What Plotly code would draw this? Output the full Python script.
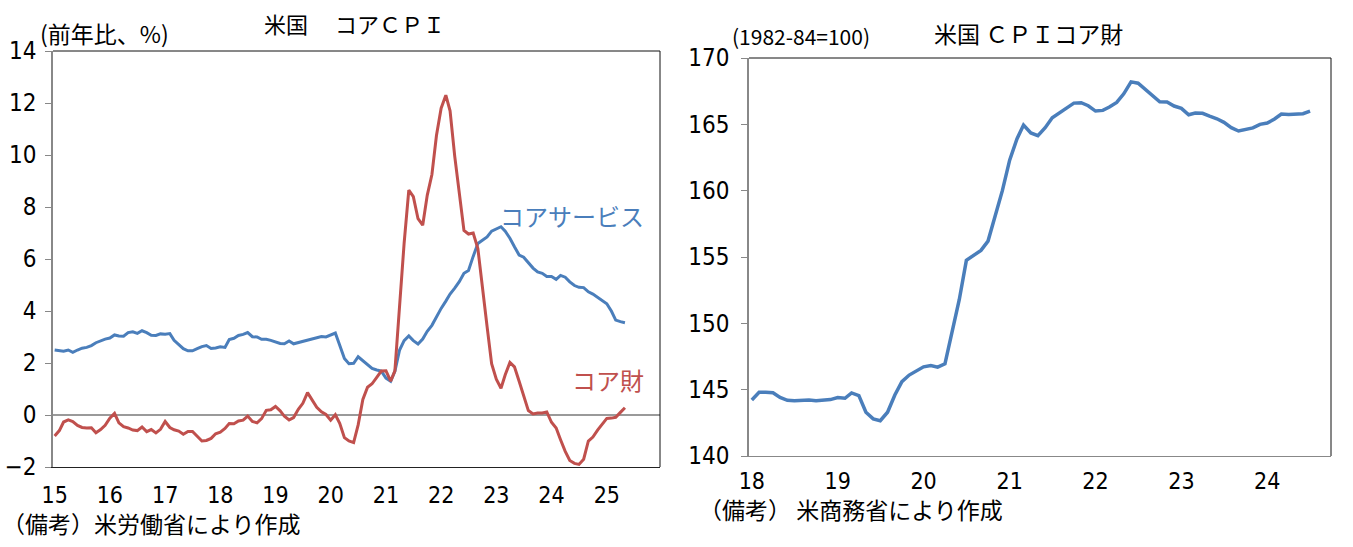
import pandas as pd
import plotly.graph_objects as go

# ---------------- data ----------------
core_dates = pd.date_range("2015-01-01", "2025-05-01", freq="MS")

core_services = [
    2.50, 2.47, 2.45, 2.50, 2.41, 2.50, 2.57, 2.60, 2.67, 2.78, 2.86, 2.92,   # 2015
    2.96, 3.08, 3.04, 3.03, 3.17, 3.20, 3.14, 3.24, 3.17, 3.07, 3.06, 3.12,   # 2016
    3.11, 3.13, 2.87, 2.70, 2.55, 2.47, 2.47, 2.55, 2.63, 2.67, 2.56, 2.58,   # 2017
    2.62, 2.60, 2.90, 2.95, 3.06, 3.10, 3.17, 3.01, 3.00, 2.91, 2.91, 2.87,   # 2018
    2.80, 2.75, 2.74, 2.85, 2.74, 2.79, 2.85, 2.90, 2.93, 2.97, 3.02, 3.00,   # 2019
    3.08, 3.15, 2.68, 2.17, 1.97, 1.99, 2.24, 2.10, 1.94, 1.79, 1.73, 1.69,   # 2020
    1.42, 1.30, 1.68, 2.50, 2.86, 3.04, 2.86, 2.73, 2.92, 3.22, 3.45, 3.80,   # 2021
    4.10, 4.38, 4.65, 4.88, 5.13, 5.45, 5.56, 6.10, 6.60, 6.72, 6.85, 7.07,   # 2022
    7.17, 7.24, 7.07, 6.80, 6.47, 6.15, 6.07, 5.84, 5.65, 5.50, 5.45, 5.33,   # 2023
    5.33, 5.22, 5.37, 5.30, 5.12, 4.98, 4.91, 4.90, 4.74, 4.65, 4.52, 4.40,   # 2024
    4.28, 3.99, 3.65, 3.59, 3.55,                                             # 2025
]

core_goods = [
    -0.81, -0.60, -0.27, -0.19, -0.25, -0.40, -0.48, -0.50, -0.49, -0.68, -0.56, -0.40,  # 2015
    -0.12, 0.06, -0.30, -0.45, -0.50, -0.58, -0.60, -0.46, -0.64, -0.56, -0.69, -0.55,   # 2016
    -0.25, -0.48, -0.57, -0.62, -0.74, -0.63, -0.63, -0.82, -1.00, -0.98, -0.90, -0.72,  # 2017
    -0.66, -0.52, -0.33, -0.34, -0.23, -0.20, -0.04, -0.25, -0.30, -0.14, 0.18, 0.20,    # 2018
    0.33, 0.16, -0.05, -0.19, -0.10, 0.22, 0.45, 0.86, 0.60, 0.30, 0.12, 0.02,           # 2019
    -0.20, 0.01, -0.32, -0.87, -1.00, -1.06, -0.38, 0.60, 1.07, 1.20, 1.45, 1.69,        # 2020
    1.70, 1.30, 1.70, 4.40, 6.60, 8.65, 8.40, 7.55, 7.30, 8.45, 9.25, 10.75,             # 2021
    11.80, 12.30, 11.70, 9.95, 8.65, 7.10, 6.96, 7.00, 6.40, 4.80, 3.40, 1.97,           # 2022
    1.38, 1.03, 1.55, 2.02, 1.85, 1.30, 0.75, 0.17, 0.04, 0.08, 0.08, 0.12,              # 2023
    -0.28, -0.50, -0.95, -1.40, -1.75, -1.86, -1.90, -1.70, -1.00, -0.85, -0.58, -0.36,  # 2024
    -0.13, -0.12, -0.09, 0.10, 0.28,                                                     # 2025
]

index_dates = pd.date_range("2018-01-01", "2024-07-01", freq="MS")

core_goods_index = [
    144.22, 144.80, 144.80, 144.77, 144.42, 144.20, 144.17, 144.20, 144.22, 144.17, 144.22, 144.25,  # 2018
    144.40, 144.35, 144.75, 144.55, 143.30, 142.80, 142.66, 143.30, 144.60, 145.60, 146.10, 146.40,  # 2019
    146.72, 146.82, 146.70, 146.95, 149.20, 151.80, 154.75, 155.15, 155.50, 156.20, 158.10, 160.00,  # 2020
    162.30, 163.90, 164.95, 164.35, 164.15, 164.75, 165.50, 165.85, 166.20, 166.60, 166.63, 166.40,  # 2021
    166.00, 166.05, 166.30, 166.65, 167.30, 168.20, 168.10, 167.60, 167.15, 166.70, 166.68, 166.38,  # 2022
    166.20, 165.72, 165.85, 165.83, 165.62, 165.42, 165.15, 164.75, 164.50, 164.60, 164.73, 165.00,  # 2023
    165.10, 165.40, 165.78, 165.75, 165.80, 165.80, 166.00,                                          # 2024
]

# ---------------- style ----------------
W, H = 1353, 547
BLUE = "#4A7EBB"
RED = "#C0504D"
JP = "Noto Sans CJK JP"
NUM = "Liberation Sans Narrow, DejaVu Sans Condensed, Noto Sans CJK JP, sans-serif"


def px_x(v):
    return v / W


def px_y(v):
    return (H - v) / H


fig = go.Figure()

fig.add_trace(go.Scatter(x=core_dates, y=core_services, mode="lines",
                         line=dict(color=BLUE, width=3), xaxis="x", yaxis="y",
                         showlegend=False))
fig.add_trace(go.Scatter(x=core_dates, y=core_goods, mode="lines",
                         line=dict(color=RED, width=3), xaxis="x", yaxis="y",
                         showlegend=False))
fig.add_trace(go.Scatter(x=index_dates, y=core_goods_index, mode="lines",
                         line=dict(color=BLUE, width=3.5), xaxis="x2", yaxis="y2",
                         showlegend=False))

common_x = dict(type="date", tickformat="%y", dtick="M12", showgrid=False,
                zeroline=False, ticks="", showline=True, linewidth=1,
                automargin=False,
                tickfont=dict(family=NUM, size=23, color="#000"))
common_y = dict(showgrid=False, ticks="outside", ticklen=6, tickcolor="#888",
                tickwidth=1, showline=True, linecolor="#888", linewidth=1.5,
                automargin=False,
                tickfont=dict(family=NUM, size=24, color="#000"))

fig.update_layout(
    width=W, height=H,
    margin=dict(l=0, r=0, t=0, b=0, pad=0, autoexpand=False),
    paper_bgcolor="white", plot_bgcolor="white",
    xaxis=dict(common_x, domain=[px_x(53), px_x(660)], anchor="y",
               range=["2014-12-21", "2025-12-19"], tick0="2015-01-01",
               linecolor="#222", ticklabelstandoff=7),
    yaxis=dict(common_y, domain=[px_y(467), px_y(51)], anchor="x",
               range=[-2, 14], dtick=2, ticklabelstandoff=4,
               zeroline=True, zerolinecolor="#9a9a9a", zerolinewidth=1.5),
    xaxis2=dict(common_x, domain=[px_x(749), px_x(1331)], anchor="y2",
                range=["2017-12-20", "2024-09-28"], tick0="2018-01-01",
                linecolor="#888", ticklabelstandoff=4),
    yaxis2=dict(common_y, domain=[px_y(456), px_y(58)], anchor="x2",
                range=[140, 170], dtick=5, zeroline=False, ticklabelstandoff=7),
)

# top and right frame lines
for xr, yr in (("x", "y"), ("x2", "y2")):
    fig.add_shape(type="line", xref=f"{xr} domain", yref=f"{yr} domain",
                  x0=0, x1=1, y0=1, y1=1, line=dict(color="#111", width=1))
    fig.add_shape(type="line", xref=f"{xr} domain", yref=f"{yr} domain",
                  x0=1, x1=1, y0=0, y1=1, line=dict(color="#111", width=1))


def note(text, x, y, size, color="#000", anchor="center"):
    fig.add_annotation(text=text, xref="paper", yref="paper",
                       x=px_x(x), y=px_y(y), xanchor=anchor, yanchor="middle",
                       showarrow=False, font=dict(family=JP, size=size, color=color))


note("米国　 コアＣＰＩ", 354, 23, 22)
note("(前年比、%)", 38, 33, 23, anchor="left")
note("コアサービス", 572, 216, 24, BLUE)
note("コア財", 608, 380, 24, RED)
note("（備考）米労働省により作成", 0, 523, 23, anchor="left")

note("米国 ＣＰＩコア財", 1028, 33, 23)
note("(1982-84=100)", 730, 36, 21, anchor="left")
note("（備考） 米商務省により作成", 697, 509, 23, anchor="left")

fig.write_html("out.html")
